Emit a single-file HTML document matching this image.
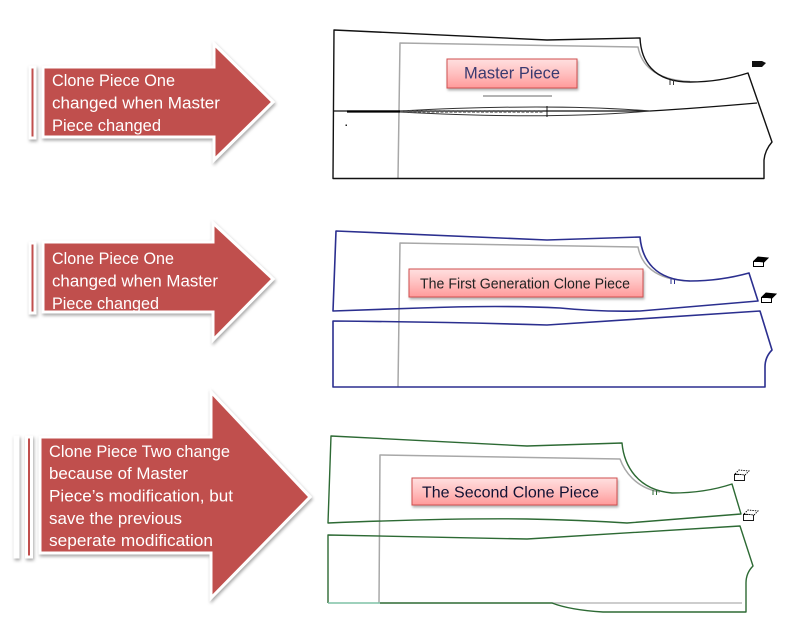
<!DOCTYPE html>
<html><head><meta charset="utf-8"><style>
html,body{margin:0;padding:0;background:#fff;}
svg{display:block;}
text{font-family:"Liberation Sans",Arial,sans-serif;}
</style></head><body>
<svg width="792" height="623" viewBox="0 0 792 623" xmlns="http://www.w3.org/2000/svg">
<defs>
<filter id="sh" x="-10%" y="-10%" width="130%" height="130%">
<feDropShadow dx="1" dy="2" stdDeviation="1.5" flood-color="#000" flood-opacity="0.35"/>
</filter>
<filter id="sh2" x="-10%" y="-20%" width="130%" height="150%">
<feDropShadow dx="1" dy="2" stdDeviation="1.2" flood-color="#000" flood-opacity="0.3"/>
</filter>
<linearGradient id="pk" x1="0" y1="0" x2="0" y2="1">
<stop offset="0" stop-color="#ffe0e0"/>
<stop offset="0.5" stop-color="#ffc0c0"/>
<stop offset="1" stop-color="#ff9a9a"/>
</linearGradient>
</defs>

<!-- ARROW 1 -->
<g filter="url(#sh)">
<rect x="30" y="67" width="5" height="71" fill="#c0504d" stroke="#fff" stroke-width="3"/>
<polygon points="43,67 214,67 214,44 273,102 214,160 214,137 43,137" fill="#c0504d" stroke="#fff" stroke-width="3" stroke-linejoin="miter"/>
</g>
<g fill="#fff" font-size="16.5">
<text x="52" y="86" textLength="123" lengthAdjust="spacingAndGlyphs">Clone Piece One</text>
<text x="52" y="108.5" textLength="168" lengthAdjust="spacingAndGlyphs">changed when Master</text>
<text x="52" y="131" textLength="109" lengthAdjust="spacingAndGlyphs">Piece changed</text>
</g>

<!-- ARROW 2 -->
<g filter="url(#sh)">
<rect x="30" y="243" width="5" height="70" fill="#c0504d" stroke="#fff" stroke-width="3"/>
<polygon points="43,242 213,242 213,223 273,279 213,340 213,312 43,312" fill="#c0504d" stroke="#fff" stroke-width="3"/>
</g>
<g fill="#fff" font-size="16.5">
<text x="52" y="264" textLength="122" lengthAdjust="spacingAndGlyphs">Clone Piece One</text>
<text x="52" y="286.5" textLength="166" lengthAdjust="spacingAndGlyphs">changed when Master</text>
<text x="52" y="309" textLength="107" lengthAdjust="spacingAndGlyphs">Piece changed</text>
</g>

<!-- ARROW 3 -->
<g filter="url(#sh)">
<rect x="15" y="437" width="3" height="120" fill="#c0504d" stroke="#fff" stroke-width="3"/>
<rect x="26.5" y="437" width="5" height="120" fill="#c0504d" stroke="#fff" stroke-width="3"/>
<polygon points="40,437 211,437 211,392 310,497 211,598 211,553 40,553" fill="#c0504d" stroke="#fff" stroke-width="3"/>
</g>
<g fill="#fff" font-size="16.5">
<text x="49" y="457" textLength="181" lengthAdjust="spacingAndGlyphs">Clone Piece Two change</text>
<text x="49" y="479" textLength="139" lengthAdjust="spacingAndGlyphs">because of Master</text>
<text x="49" y="501.5" textLength="184" lengthAdjust="spacingAndGlyphs">Piece’s modification, but</text>
<text x="49" y="524" textLength="133" lengthAdjust="spacingAndGlyphs">save the previous</text>
<text x="49" y="546" textLength="164" lengthAdjust="spacingAndGlyphs">seperate modification</text>
</g>

<!-- MASTER PIECE -->
<g fill="none" stroke-linejoin="round">
<path d="M398,178.5 L400,43 L638,47 C641,63 653,80 690,81.5" stroke="#a8a8a8" stroke-width="1.5"/>
<path d="M334,30 Q450,35 547,40 L640,38 C641,60 652,82 690,82 Q720,82 748,73 L772,142 Q765,150 764,160 L764,178.5 L333,178.5 Z" stroke="#111" stroke-width="1.4"/>
<path d="M333,111 L650,111 Q700,108 757,103" stroke="#111" stroke-width="1.2"/>
<path d="M347,111.5 L400,111.5" stroke="#000" stroke-width="2.2"/>
<path d="M400,111 Q547,103 650,111" stroke="#333" stroke-width="1"/>
<path d="M400,112 Q547,120 650,111" stroke="#333" stroke-width="1"/>
<path d="M400,111.5 L544,111.5" stroke="#555" stroke-width="2.2" stroke-dasharray="3,1.5"/>
<path d="M547,106 L547,117" stroke="#111" stroke-width="1"/>
<path d="M483,96 L552,96" stroke="#9a9a9a" stroke-width="1.5"/>
<path d="M670,80 L670,85 M673.5,80 L673.5,85" stroke="#333" stroke-width="1"/>
</g>
<rect x="345.5" y="124.5" width="1.5" height="1.5" fill="#222"/>
<path d="M752,61 L762,61 L766,63 L762,67 L752,67 Z" fill="#111"/>
<g filter="url(#sh2)">
<rect x="447" y="59" width="130" height="29" fill="url(#pk)" stroke="#d05050" stroke-width="1"/>
</g>
<text x="464" y="78.5" font-size="16.5" fill="#3a3a70" textLength="96" lengthAdjust="spacingAndGlyphs">Master Piece</text>

<!-- CLONE 1 (navy) -->
<g fill="none" stroke-linejoin="round">
<path d="M398,387 L400,243 L638,247 C641,263 653,280 690,281" stroke="#a8a8a8" stroke-width="1.5"/>
<path d="M336,231 Q450,236 547,240 L640,237 C642,260 655,280 690,281 Q720,281 749,273 L758,301 Q700,306 640,311 Q600,312 560,308 Q500,305 420,308 L333,311 Z" stroke="#2b2f8f" stroke-width="1.6"/>
<path d="M333,321 Q450,322 547,325 L760,311 L772,350 Q765,357 765,367 L765,387 L333,387 Z" stroke="#2b2f8f" stroke-width="1.6"/>
<path d="M671,279 L671,284 M674.5,279 L674.5,284" stroke="#2b2f8f" stroke-width="1"/>
</g>
<g stroke="#000" stroke-width="1">
<rect x="753.5" y="261.5" width="10" height="5" fill="#fff"/>
<path d="M754,261 L758,257 L768,258 L764,262 Z" fill="#000"/>
<rect x="761.5" y="297.5" width="10" height="5" fill="#fff"/>
<path d="M762,297 L766,293 L776,294 L772,298 Z" fill="#000"/>
</g>
<g filter="url(#sh2)">
<rect x="409" y="269" width="234" height="28" fill="url(#pk)" stroke="#d05050" stroke-width="1"/>
</g>
<text x="420" y="288.5" font-size="15" fill="#222" textLength="210" lengthAdjust="spacingAndGlyphs">The First Generation Clone Piece</text>

<!-- CLONE 2 (green) -->
<g fill="none" stroke-linejoin="round">
<path d="M379,603 L380,455 L620,459 C624,470 635,488 660,492" stroke="#a8a8a8" stroke-width="1.5"/>
<path d="M331,436 Q430,441 527,446 L622,443 C624,465 637,490 672,493 Q705,493 732,484 L741,514 Q690,518 627,523 Q580,520 527,519 Q450,518 328,523 Z" stroke="#2d6a34" stroke-width="1.4"/>
<path d="M552,603 L742,603" stroke="#c6c6c6" stroke-width="1.8"/>
<path d="M328,603 L328,535 Q420,537 527,539 L740,526 L753,566 Q746,573 746,583 L746,612 L603,612 Q570,610 552,603 L380,603" stroke="#2d6a34" stroke-width="1.4"/>
<path d="M328,603 L380,603" stroke="#7fc2a6" stroke-width="1.6"/>
<path d="M653,490 L653,495 M656.5,490 L656.5,495" stroke="#2d6a34" stroke-width="1"/>
</g>
<g stroke="#000" stroke-width="0.9" fill="#fff">
<rect x="734.5" y="474.5" width="10" height="6"/>
<path d="M735,474 L739,470 L749,471 L745,475 Z" stroke-dasharray="1.5,1"/>
<rect x="743.5" y="514.5" width="10" height="6"/>
<path d="M744,514 L748,510 L758,511 L754,515 Z" stroke-dasharray="1.5,1"/>
</g>
<g filter="url(#sh2)">
<rect x="412" y="478" width="205" height="27" fill="url(#pk)" stroke="#d05050" stroke-width="1"/>
</g>
<text x="422" y="497.5" font-size="16" fill="#111133" textLength="177" lengthAdjust="spacingAndGlyphs">The Second Clone Piece</text>
</svg>
</body></html>
